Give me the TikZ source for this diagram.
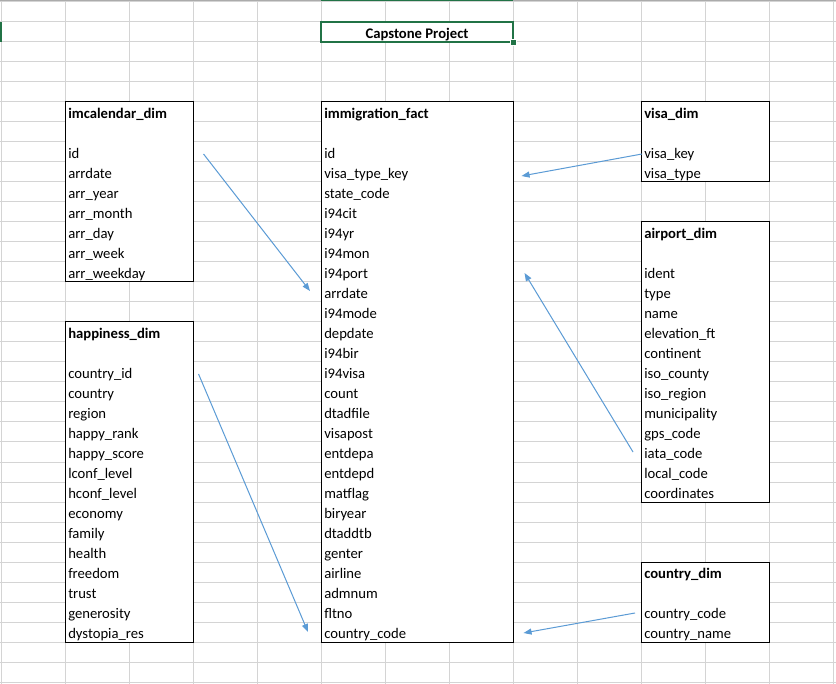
\documentclass[tikz,border=0pt]{standalone}
\usepackage{fontspec}
\setmainfont{Carlito}
\usetikzlibrary{arrows.meta,calc}
\definecolor{xlGrid}{HTML}{D4D4D4}
\definecolor{xlEdge}{HTML}{ABABAB}
\definecolor{xlGreen}{HTML}{217346}
\definecolor{xlBlue}{HTML}{5B9BD5}

\begin{document}
\begin{tikzpicture}[x=0.75pt,y=-0.75pt,font=\fontsize{11}{13}\selectfont,
  grid line/.style={xlGrid,line width=0.75pt},
  tbl/.style={draw=black,fill=white,line width=0.75pt},
  field/.style={anchor=west,inner xsep=2.25pt,inner ysep=0pt,minimum height=15pt,text height=11pt,text depth=1.8pt,align=left},
  narrow/.style={field,text width=91.5pt},
  wide/.style={field,text width=139.5pt},
  head/.style={font=\fontsize{11}{13}\selectfont\bfseries},
  link/.style={xlBlue,line width=0.75pt,-{Triangle[length=6pt,width=4.5pt]}}]
\useasboundingbox (0,0) rectangle (836,684);
% sheet grid
\fill[white] (0,0) rectangle (836,684);
\foreach \k in {0,...,13} \draw[grid line] (1+64*\k,0) -- (1+64*\k,684);
\foreach \k in {0,...,34} \draw[grid line] (0,2+20*\k) -- (836,2+20*\k);
\draw[xlEdge,line width=1pt] (0,0.5) -- (836,0.5);
\draw[xlGreen,line width=1.5pt] (321,0.5) -- (513,0.5);
\fill[xlGreen] (0,22) rectangle (2,42);
% title cell
\draw[fill=white,draw=xlGreen,line width=1.5pt] (321,22) rectangle (513,42);
\fill[xlGreen,draw=white,line width=0.5pt] (510,39) rectangle (516,45);
\node[field,head,anchor=center] (title) at (417,32) {Capstone Project};
% imcalendar_dim
\draw[tbl] (65,102) rectangle (193,282);
\node[narrow,head] (cal0) at (65,112) {imcalendar\_dim};
\foreach \f [count=\i] in {id,arrdate,arr\_year,arr\_month,arr\_day,arr\_week,arr\_weekday}
  \node[narrow] (cal\i) at (65,132+20*\i) {\f};
% happiness_dim
\draw[tbl] (65,322) rectangle (193,642);
\node[narrow,head] (hap0) at (65,332) {happiness\_dim};
\foreach \f [count=\i] in {country\_id,country,region,happy\_rank,happy\_score,lconf\_level,hconf\_level,economy,family,health,freedom,trust,generosity,dystopia\_res}
  \node[narrow] (hap\i) at (65,352+20*\i) {\f};
% immigration_fact
\draw[tbl] (321,102) rectangle (513,642);
\node[wide,head] (fact0) at (321,112) {immigration\_fact};
\foreach \f [count=\i] in {id,visa\_type\_key,state\_code,i94cit,i94yr,i94mon,i94port,arrdate,i94mode,depdate,i94bir,i94visa,count,dtadfile,visapost,entdepa,entdepd,matflag,biryear,dtaddtb,genter,airline,admnum,fltno,country\_code}
  \node[wide] (fact\i) at (321,132+20*\i) {\f};
% visa_dim
\draw[tbl] (641,102) rectangle (769,182);
\node[narrow,head] (visa0) at (641,112) {visa\_dim};
\foreach \f [count=\i] in {visa\_key,visa\_type}
  \node[narrow] (visa\i) at (641,132+20*\i) {\f};
% airport_dim
\draw[tbl] (641,222) rectangle (769,502);
\node[narrow,head] (air0) at (641,232) {airport\_dim};
\foreach \f [count=\i] in {ident,type,name,elevation\_ft,continent,iso\_county,iso\_region,municipality,gps\_code,iata\_code,local\_code,coordinates}
  \node[narrow] (air\i) at (641,252+20*\i) {\f};
% country_dim
\draw[tbl] (641,562) rectangle (769,642);
\node[narrow,head] (ctry0) at (641,572) {country\_dim};
\foreach \f [count=\i] in {country\_code,country\_name}
  \node[narrow] (ctry\i) at (641,592+20*\i) {\f};
% links to the fact table
\draw[link] ($(cal1.east)+(10,2)$) -- ($(fact8.west)+(-11,-1)$);
\draw[link] ($(visa1.west)+(1,2)$) -- ($(fact2.east)+(8,4)$);
\draw[link] ($(air10.west)+(-8,0)$) -- ($(fact7.east)+(11,1)$);
\draw[link] ($(hap1.east)+(5,2)$) -- ($(fact25.west)+(-13,0)$);
\draw[link] ($(ctry1.west)+(-6,1)$) -- ($(fact25.east)+(10,1)$);
\end{tikzpicture}
\end{document}
